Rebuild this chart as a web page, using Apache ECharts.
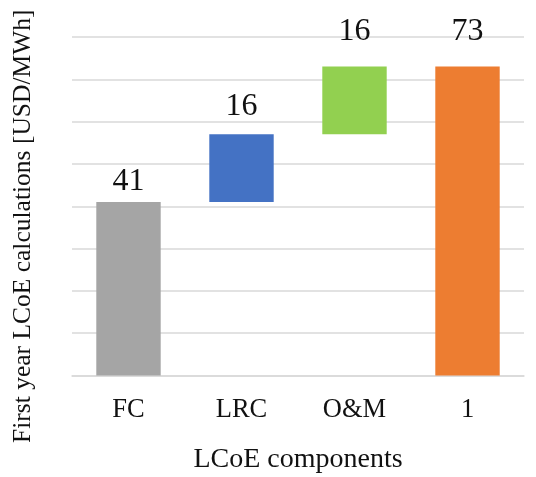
<!DOCTYPE html>
<html>
<head>
<meta charset="utf-8">
<script src="https://cdn.jsdelivr.net/npm/echarts@6/dist/echarts.min.js"></script>
<style>
  html, body { margin: 0; padding: 0; background: #fff; }
  #chart { width: 536px; height: 477px; }
</style>
</head>
<body>
<div id="chart"></div>
<script>
const categories = ['FC', 'LRC', 'O&M', '1']
const values = [41, 16, 16, 73]
const isTotal = [false, false, false, true]
const barColors = ['#A5A5A5', '#4472C4', '#92D050', '#ED7D31']
const labelGaps = [4, 12, 19, 19]
const yTicks = { min: 0, max: 80, interval: 10 }

// invisible base for waterfall steps
let running = 0
const bases = values.map((v, i) => {
  if (isTotal[i]) return 0
  const b = running
  running += v
  return b
})

const font = '"Liberation Serif", "DejaVu Serif", serif'

const chart = echarts.init(document.getElementById('chart'))
chart.setOption({
  animation: false,
  textStyle: { fontFamily: font },
  grid: { left: 72, right: 12, top: 37, bottom: 101.5, outerBoundsMode: 'none', containLabel: false },
  xAxis: {
    type: 'category',
    data: categories,
    name: 'LCoE components',
    nameLocation: 'middle',
    nameGap: 70,
    nameTextStyle: { fontSize: 28, color: '#111', fontFamily: font },
    axisLine: { lineStyle: { color: '#D9D9D9', width: 1.5 } },
    axisTick: { show: false },
    axisLabel: { fontSize: 26.5, color: '#111', margin: 21, fontFamily: font }
  },
  yAxis: {
    type: 'value',
    min: yTicks.min,
    max: yTicks.max,
    interval: yTicks.interval,
    name: 'First year LCoE calculations [USD/MWh]',
    nameLocation: 'middle',
    nameGap: 36,
    nameTextStyle: { fontSize: 25.5, color: '#111', fontFamily: font, padding: [0, 40, 0, 0] },
    axisLine: { show: false },
    axisTick: { show: false },
    axisLabel: { show: false },
    splitLine: { lineStyle: { color: '#D9D9D9', width: 1.5 } }
  },
  series: [
    {
      type: 'bar',
      stack: 'w',
      data: bases,
      itemStyle: { color: 'transparent' },
      silent: true,
      barCategoryGap: '43%'
    },
    {
      type: 'bar',
      stack: 'w',
      data: values.map((v, i) => ({
        value: v,
        itemStyle: { color: barColors[i] },
        label: { distance: labelGaps[i] }
      })),
      barCategoryGap: '43%',
      label: {
        show: true,
        position: 'top',
        fontSize: 32,
        color: '#111',
        fontFamily: font
      }
    }
  ]
})
</script>
</body>
</html>
